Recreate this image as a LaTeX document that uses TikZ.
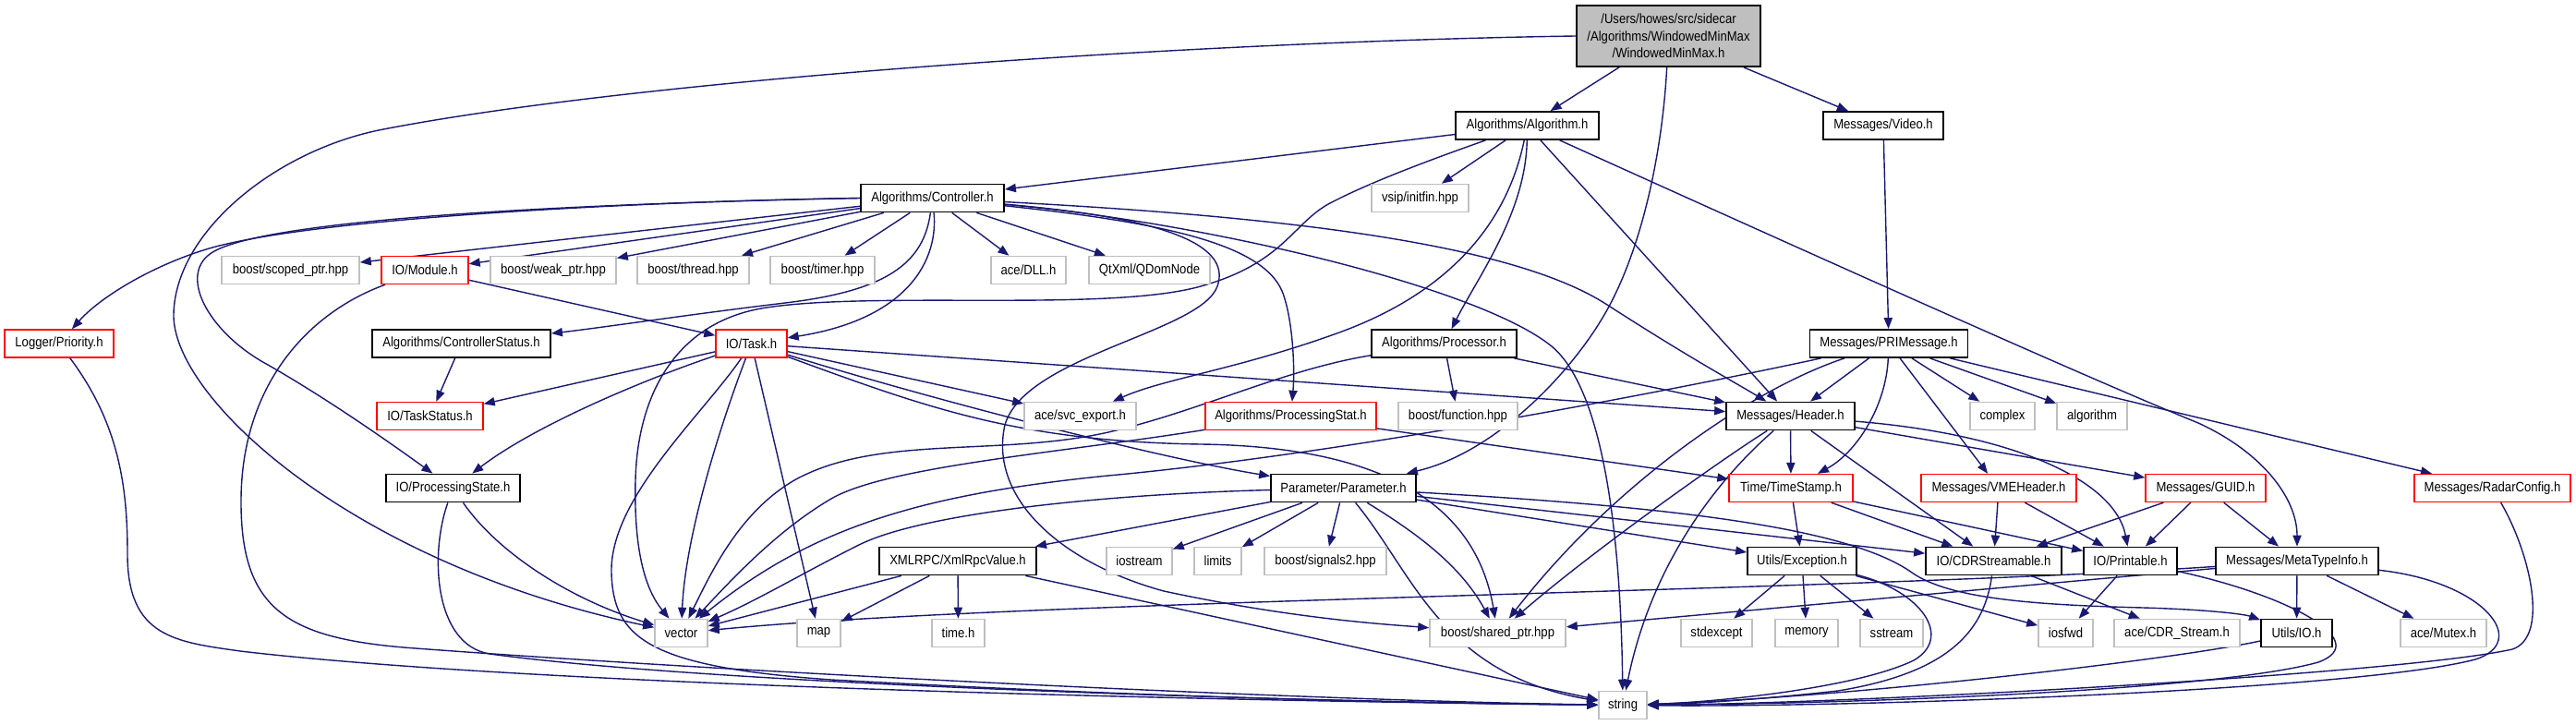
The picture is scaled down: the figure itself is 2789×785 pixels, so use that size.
\documentclass[tikz,border=0pt]{standalone}
\usepackage{fontspec}
\newfontfamily\dgfont{Liberation Sans}[FakeStretch=0.885]
\usetikzlibrary{arrows.meta}
\definecolor{edgecol}{HTML}{191970}
\definecolor{grayb}{HTML}{BFBFBF}
\pgfdeclarelayer{back}
\pgfdeclarelayer{bg}
\pgfsetlayers{back,bg,main}
\tikzset{
  bw/.style={minimum width=#1*0.5pt},
  nd/.style={rectangle, inner sep=0pt, minimum height=15pt, fill=white,
    font=\dgfont\fontsize{7.4pt}{9.2pt}\selectfont},
  blk/.style={nd, draw=black, line width=0.9pt},
  rbox/.style={nd, draw=red, line width=0.7pt},
  gbox/.style={nd, draw=grayb, line width=0.8pt},
  dep/.style={draw=edgecol, line width=0.7pt, -{Triangle[length=6pt,width=4.6pt]}}
}
\begin{document}
\begin{tikzpicture}[x=0.5pt,y=-0.5pt]
\begin{pgfonlayer}{back}
\fill[white] (0,0) rectangle (2789,785);
\end{pgfonlayer}
\useasboundingbox (0,0) rectangle (2789,785);
% row 1
\node[blk, fill=grayb, bw=199, minimum height=33pt, align=center] (main) at (1806.5,39)
  {/Users/howes/src/sidecar\\/Algorithms/WindowedMinMax\\/WindowedMinMax.h};
% row 2
\node[blk, bw=155] (algo) at (1653.5,136) {Algorithms/Algorithm.h};
\node[blk, bw=130] (video) at (2039,136) {Messages/Video.h};
% row 3
\node[blk, bw=155] (ctrl) at (1009.5,214.5) {Algorithms/Controller.h};
\node[gbox, bw=105] (vsip) at (1537.5,214.5) {vsip/initfin.hpp};
% row 4
\node[gbox, bw=149] (scoped) at (314.5,292.5) {boost/scoped\_ptr.hpp};
\node[rbox, bw=94] (module) at (460,292.5) {IO/Module.h};
\node[gbox, bw=136] (weak) at (599,292.5) {boost/weak\_ptr.hpp};
\node[gbox, bw=121] (thread) at (750.5,292.5) {boost/thread.hpp};
\node[gbox, bw=113] (timer) at (890.5,292.5) {boost/timer.hpp};
\node[gbox, bw=81] (dll) at (1113.5,292.5) {ace/DLL.h};
\node[gbox, bw=131] (qdom) at (1244.5,292.5) {QtXml/QDomNode};
% row 5
\node[rbox, bw=118] (prio) at (64,372) {Logger/Priority.h};
\node[blk, bw=193] (cstat) at (499.5,372) {Algorithms/ControllerStatus.h};
\node[rbox, bw=77] (task) at (813.5,372) {IO/Task.h};
\node[blk, bw=157] (proc) at (1563.5,372) {Algorithms/Processor.h};
\node[blk, bw=171] (primsg) at (2045,372) {Messages/PRIMessage.h};
% row 6
\node[rbox, bw=115] (tstat) at (465.5,450.5) {IO/TaskStatus.h};
\node[gbox, bw=121] (svc) at (1169.5,450.5) {ace/svc\_export.h};
\node[rbox, bw=185] (pstat) at (1397.5,450.5) {Algorithms/ProcessingStat.h};
\node[gbox, bw=129] (func) at (1578.5,450.5) {boost/function.hpp};
\node[blk, bw=139] (header) at (1938.5,450.5) {Messages/Header.h};
\node[gbox, bw=70] (complex) at (2168,450.5) {complex};
\node[gbox, bw=76] (algorithm) at (2265,450.5) {algorithm};
% row 7
\node[blk, bw=145] (pstate) at (490.5,528.5) {IO/ProcessingState.h};
\node[blk, bw=157] (param) at (1454.5,528.5) {Parameter/Parameter.h};
\node[rbox, bw=134] (tstamp) at (1939,528.5) {Time/TimeStamp.h};
\node[rbox, bw=168] (vme) at (2164,528.5) {Messages/VMEHeader.h};
\node[rbox, bw=130] (guid) at (2388,528.5) {Messages/GUID.h};
\node[rbox, bw=169] (radar) at (2698.5,528.5) {Messages/RadarConfig.h};
% row 8
\node[blk, bw=170] (xmlrpc) at (1037,607.5) {XMLRPC/XmlRpcValue.h};
\node[gbox, bw=71] (iostream) at (1233.5,607.5) {iostream};
\node[gbox, bw=51] (limits) at (1318.5,607.5) {limits};
\node[gbox, bw=132] (signals) at (1435,607.5) {boost/signals2.hpp};
\node[blk, bw=118] (exc) at (1951,607.5) {Utils/Exception.h};
\node[blk, bw=147] (cdr) at (2158.5,607.5) {IO/CDRStreamable.h};
\node[blk, bw=101] (printable) at (2306.5,607.5) {IO/Printable.h};
\node[blk, bw=176] (meta) at (2487,607.5) {Messages/MetaTypeInfo.h};
% row 9
\node[gbox, bw=57] (vector) at (737.5,685.5) {vector};
\node[gbox, bw=47] (map) at (886.5,685.5) {map};
\node[gbox, bw=57] (timeh) at (1037.5,685.5) {time.h};
\node[gbox, bw=147] (shared) at (1621.5,685.5) {boost/shared\_ptr.hpp};
\node[gbox, bw=77] (stdexcept) at (1858.5,685.5) {stdexcept};
\node[gbox, bw=68] (memory) at (1956,685.5) {memory};
\node[gbox, bw=68] (sstream) at (2048,685.5) {sstream};
\node[gbox, bw=59] (iosfwd) at (2236.5,685.5) {iosfwd};
\node[gbox, bw=136] (cdrstream) at (2357,685.5) {ace/CDR\_Stream.h};
\node[blk, bw=77] (utilsio) at (2486.5,685.5) {Utils/IO.h};
\node[gbox, bw=93] (mutex) at (2645.5,685.5) {ace/Mutex.h};
% row 10
\node[gbox, bw=52] (string) at (1757,763.5) {string};

\begin{pgfonlayer}{bg}
% main
\draw[dep] (main) -- (algo);
\draw[dep] (main) -- (video);
\draw[dep] (main.west) .. controls (1300,45) and (700,85) .. (415,140)
  .. controls (300,162) and (190,250) .. (188,340)
  .. controls (186,430) and (380,610) .. (vector);
\draw[dep] (main) .. controls (1800,160) and (1780,260) .. (1743,330)
  .. controls (1706,400) and (1620,490) .. (param);
% algo
\draw[dep] (algo) -- (ctrl);
\draw[dep] (algo) -- (vsip);
\draw[dep] (algo) .. controls (1652,230) and (1600,300) .. (proc);
\draw[dep] (algo) .. controls (1630,250) and (1560,320) .. (1450,360)
  .. controls (1340,400) and (1260,410) .. (svc);
\draw[dep] (algo) .. controls (1540,176) and (1480,199) .. (1440,220)
  .. controls (1400,241) and (1390,285) .. (1300,310)
  .. controls (1200,338) and (950,315) .. (830,333)
  .. controls (730,348) and (690,430) .. (688,520)
  .. controls (686,600) and (700,640) .. (vector);
\draw[dep] (algo) -- (header);
\draw[dep] (algo) .. controls (1950,270) and (2250,405) .. (2380,458)
  .. controls (2450,490) and (2487,540) .. (meta);
% video
\draw[dep] (video) -- (primsg);
% ctrl
\draw[dep] (ctrl.west) .. controls (700,218) and (350,235) .. (230,268)
  .. controls (170,285) and (110,320) .. (prio);
\draw[dep] (ctrl.west) .. controls (650,220) and (300,235) .. (232,272)
  .. controls (190,295) and (225,360) .. (290,395)
  .. controls (360,435) and (430,485) .. (pstate);
\draw[dep] (ctrl) -- (scoped);
\draw[dep] (ctrl) -- (module);
\draw[dep] (ctrl) -- (weak);
\draw[dep] (ctrl) -- (thread);
\draw[dep] (ctrl) -- (timer);
\draw[dep] (ctrl) -- (dll);
\draw[dep] (ctrl) -- (qdom);
\draw[dep] (ctrl) .. controls (1000,285) and (960,315) .. (850,328)
  .. controls (750,340) and (650,355) .. (cstat);
\draw[dep] (ctrl) .. controls (1016,280) and (985,345) .. (task);
\draw[dep] (ctrl) .. controls (1400,235) and (1640,265) .. (1740,330)
  .. controls (1830,388) and (1880,415) .. (header);
\draw[dep] (ctrl) .. controls (1300,240) and (1600,310) .. (1680,375)
  .. controls (1740,425) and (1755,600) .. (string);
\draw[dep] (ctrl) .. controls (1250,240) and (1365,262) .. (1388,315)
  .. controls (1400,345) and (1402,400) .. (pstat);
\draw[dep] (ctrl) .. controls (1250,235) and (1335,262) .. (1318,310)
  .. controls (1300,360) and (1110,385) .. (1088,460)
  .. controls (1070,540) and (1150,610) .. (1260,640)
  .. controls (1400,670) and (1500,676) .. (shared);
% module
\draw[dep] (module) -- (task);
\draw[dep] (module) .. controls (330,340) and (262,420) .. (261,540)
  .. controls (260,660) and (310,692) .. (450,702)
  .. controls (800,728) and (1400,758) .. (string);
% prio
\draw[dep] (prio) .. controls (130,460) and (138,530) .. (138,600)
  .. controls (138,690) and (190,695) .. (260,705)
  .. controls (600,745) and (1400,760) .. (string);
% cstat
\draw[dep] (cstat) -- (tstat);
% task
\draw[dep] (task) -- (tstat);
\draw[dep] (task) .. controls (700,410) and (580,460) .. (pstate);
\draw[dep] (task) .. controls (780,460) and (742,580) .. (vector);
\draw[dep] (task) .. controls (760,450) and (660,540) .. (662,620)
  .. controls (664,690) and (700,722) .. (900,736)
  .. controls (1300,758) and (1600,762) .. (string);
\draw[dep] (task) -- (map);
\draw[dep] (task) .. controls (1000,430) and (1250,495) .. (param);
\draw[dep] (task) -- (svc);
\draw[dep] (task) -- (header);
\draw[dep] (task) .. controls (1000,440) and (1100,478) .. (1300,481)
  .. controls (1520,484) and (1600,560) .. (shared);
% proc
\draw[dep] (proc) -- (func);
\draw[dep] (proc) -- (header);
\draw[dep] (proc) .. controls (1390,400) and (1300,445) .. (1200,468)
  .. controls (1080,495) and (950,470) .. (860,520)
  .. controls (800,555) and (770,620) .. (vector);
% pstat
\draw[dep] (pstat) .. controls (1150,490) and (960,505) .. (900,540)
  .. controls (840,575) and (790,630) .. (vector);
\draw[dep] (pstat) -- (tstamp);
% header
\draw[dep] (header) -- (tstamp);
\draw[dep] (header) -- (cdr);
\draw[dep] (header) -- (guid);
\draw[dep] (header) .. controls (2180,470) and (2290,520) .. (printable);
\draw[dep] (header) .. controls (1860,500) and (1720,600) .. (shared);
\draw[dep] (header) .. controls (1870,510) and (1790,600) .. (string);
% primsg
\draw[dep] (primsg) -- (header);
\draw[dep] (primsg) .. controls (2042,440) and (2010,490) .. (tstamp);
\draw[dep] (primsg) -- (vme);
\draw[dep] (primsg) -- (complex);
\draw[dep] (primsg) -- (algorithm);
\draw[dep] (primsg) -- (radar);
\draw[dep] (primsg) .. controls (1800,425) and (1450,492) .. (1200,515)
  .. controls (1000,535) and (880,570) .. (vector);
\draw[dep] (primsg) .. controls (1900,420) and (1750,520) .. (shared);
% tstamp
\draw[dep] (tstamp) -- (exc);
\draw[dep] (tstamp) -- (cdr);
\draw[dep] (tstamp) -- (printable);
% vme
\draw[dep] (vme) -- (cdr);
\draw[dep] (vme) -- (printable);
% guid
\draw[dep] (guid) -- (cdr);
\draw[dep] (guid) -- (printable);
\draw[dep] (guid) -- (meta);
% radar
\draw[dep] (radar) .. controls (2740,600) and (2760,690) .. (2720,703)
  .. controls (2600,730) and (2000,762) .. (string);
% param
\draw[dep] (param) -- (xmlrpc);
\draw[dep] (param) -- (iostream);
\draw[dep] (param) -- (limits);
\draw[dep] (param) -- (signals);
\draw[dep] (param) .. controls (1200,535) and (1000,555) .. (930,590)
  .. controls (870,620) and (820,650) .. (vector);
\draw[dep] (param) .. controls (1530,575) and (1580,610) .. (shared);
\draw[dep] (param) .. controls (1530,620) and (1560,730) .. (string);
\draw[dep] (param) -- (exc);
\draw[dep] (param) -- (cdr);
\draw[dep] (param) .. controls (1800,548) and (2000,570) .. (2070,620)
  .. controls (2110,648) and (2200,655) .. (2320,658)
  .. controls (2390,660) and (2430,665) .. (utilsio);
% xmlrpc
\draw[dep] (xmlrpc) -- (vector);
\draw[dep] (xmlrpc) -- (map);
\draw[dep] (xmlrpc) -- (timeh);
\draw[dep] (xmlrpc) -- (string);
% exc
\draw[dep] (exc) -- (stdexcept);
\draw[dep] (exc) -- (memory);
\draw[dep] (exc) -- (sstream);
\draw[dep] (exc) -- (iosfwd);
\draw[dep] (exc) .. controls (2080,640) and (2115,690) .. (2072,715)
  .. controls (2010,745) and (1860,760) .. (string);
% cdr
\draw[dep] (cdr) -- (cdrstream);
\draw[dep] (cdr) .. controls (2148,690) and (2100,730) .. (1990,748)
  .. controls (1900,758) and (1830,762) .. (string);
% printable
\draw[dep] (printable) -- (iosfwd);
\draw[dep] (printable) .. controls (2480,645) and (2570,695) .. (2510,717)
  .. controls (2400,748) and (2000,762) .. (string);
% meta
\draw[dep] (meta) -- (utilsio);
\draw[dep] (meta) -- (mutex);
\draw[dep] (meta) .. controls (2690,630) and (2740,695) .. (2680,714)
  .. controls (2550,748) and (2000,766) .. (string);
\draw[dep] (meta) -- (shared);
\draw[dep] (meta) .. controls (2000,640) and (1100,650) .. (vector);
% utilsio
\draw[dep] (utilsio) .. controls (2350,715) and (2000,755) .. (string);
% pstate
\draw[dep] (pstate) .. controls (540,600) and (620,650) .. (vector);
\draw[dep] (pstate) .. controls (465,600) and (470,698) .. (530,708)
  .. controls (750,738) and (1300,758) .. (string);
\end{pgfonlayer}
\end{tikzpicture}
\end{document}
